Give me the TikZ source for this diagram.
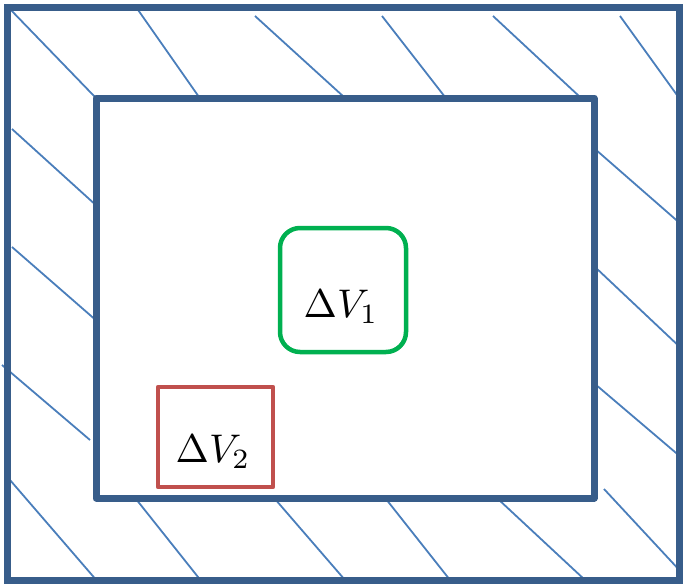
\documentclass[tikz,border=0pt]{standalone}
\usepackage{graphicx}
\definecolor{frameblue}{HTML}{385D8A}
\definecolor{hatchblue}{HTML}{4A7EBB}
\definecolor{boxgreen}{HTML}{00B050}
\definecolor{boxred}{HTML}{C0504D}
\tikzset{
  hatchline/.style={draw=hatchblue, line width=1.8pt},
  frameline/.style={draw=frameblue, line width=7pt},
  label/.style={anchor=base, inner sep=0pt}
}
\newcommand{\bigmath}[1]{\scalebox{4}{$#1$}}
\begin{document}
\begin{tikzpicture}[x=1pt, y=-1pt]
\useasboundingbox (0,0) rectangle (683,584);
% hatching
\foreach \a/\b/\c/\d in {
  8/7/95/97, 136/7/199/97, 255/16/344/97, 382/16/445/97, 493/16/580/97, 620/16/682/102,
  595/149/682/225, 595/267/682/349, 595/384/682/458, 604/489/683/574,
  136/499/202/582, 275/499/345/580, 386/499/450/580, 498/499/585/580,
  12/129/98/207, 12/247/98/322, 2/365/90/440, 10/480/98/582}
  \draw[hatchline] (\a,\b) -- (\c,\d);
% frames
\draw[frameline] (7,7) rectangle (679,580);
\draw[frameline, line join=round] (96,98) rectangle (594,498);
% small volumes
\draw[draw=boxgreen, line width=4.5pt, rounded corners=20pt] (280,228) rectangle (406,352);
\draw[draw=boxred, line width=4.5pt, line join=round] (158,387) rectangle (273,487);
\node[label] (v1) at (341,317) {\bigmath{\Delta V_1}};
\node[label] (v2) at (213,462) {\bigmath{\Delta V_2}};
\end{tikzpicture}
\end{document}
